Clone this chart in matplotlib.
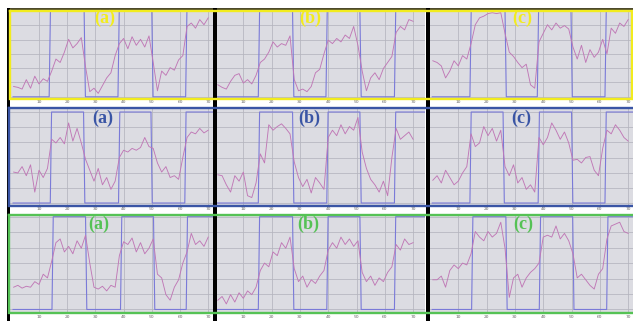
import numpy as np
import matplotlib.pyplot as plt

W, H = 633, 321
fig = plt.figure(figsize=(W / 100, H / 100), dpi=100)
fig.patch.set_facecolor("white")

# sample positions shared by every trace
t = np.arange(1, 71, 1.5)

# measured traces (0 = low reference level, 100 = high reference level)
top_a = [12, 11, 9, 20, 10, 24, 15, 21, 18, 30, 44, 40, 52, 67, 57, 62, 69, 35, 6, 10, 4, 13, 22, 28,
         48, 62, 68, 56, 70, 60, 67, 58, 71, 40, 7, 30, 25, 34, 31, 43, 48, 82, 86, 80, 90, 84, 92]
top_b = [14, 11, 9, 18, 25, 27, 16, 20, 15, 25, 40, 44, 52, 64, 58, 62, 60, 71, 20, 7, 9, 6, 12, 28,
         32, 50, 66, 62, 68, 64, 72, 68, 82, 60, 30, 7, 22, 28, 20, 33, 40, 47, 75, 82, 78, 90, 88]
top_c = [42, 40, 36, 22, 30, 42, 36, 48, 44, 62, 84, 92, 94, 97, 98, 97, 98, 74, 52, 47, 40, 34, 38, 14,
         10, 64, 74, 84, 78, 86, 80, 83, 79, 58, 44, 60, 40, 55, 46, 52, 67, 50, 80, 74, 86, 82, 90]
mid_a = [34, 33, 40, 30, 42, 12, 36, 28, 38, 70, 66, 72, 65, 88, 68, 82, 66, 48, 36, 24, 38, 20, 28, 15,
         24, 50, 58, 56, 60, 58, 61, 72, 62, 60, 44, 34, 40, 28, 30, 26, 50, 72, 78, 76, 82, 77, 80]
mid_b = [31, 30, 20, 12, 30, 24, 34, 8, 6, 22, 54, 44, 86, 80, 84, 87, 82, 76, 45, 28, 18, 26, 11, 28,
         22, 15, 72, 80, 74, 86, 76, 84, 80, 94, 56, 38, 26, 20, 12, 24, 8, 50, 82, 70, 74, 78, 70]
mid_c = [25, 30, 22, 36, 28, 20, 24, 33, 40, 76, 62, 66, 84, 74, 82, 68, 80, 40, 30, 42, 22, 28, 15, 20,
         12, 72, 64, 72, 88, 80, 70, 78, 66, 47, 48, 44, 50, 51, 36, 30, 60, 80, 76, 86, 80, 72, 68]
bot_a = [24, 26, 23, 25, 24, 30, 27, 38, 34, 52, 72, 76, 62, 68, 60, 74, 66, 80, 50, 24, 22, 25, 20, 26,
         24, 58, 73, 70, 77, 62, 72, 60, 66, 76, 38, 34, 16, 10, 24, 32, 50, 62, 82, 70, 74, 68, 78]
bot_b = [10, 14, 6, 16, 8, 18, 12, 20, 16, 24, 42, 50, 46, 62, 58, 72, 66, 78, 44, 30, 36, 24, 32, 28,
         36, 42, 64, 72, 66, 78, 70, 76, 68, 74, 40, 30, 36, 26, 34, 30, 40, 46, 70, 64, 76, 70, 72]
bot_c = [32, 32, 36, 24, 42, 48, 44, 50, 48, 60, 84, 78, 74, 84, 78, 82, 94, 66, 13, 34, 38, 24, 34, 40,
         44, 50, 78, 80, 78, 90, 76, 82, 74, 60, 34, 38, 32, 26, 22, 38, 44, 76, 90, 92, 94, 84, 82]

# switching instants of the reference square wave
edges_top_a = [13.6, 26.0, 38.0, 50.0, 62.0]
edges_top_b = [15.3, 27.4, 39.2, 51.2, 63.4]
edges_top_c = [14.1, 26.5, 37.9, 49.8, 61.8]
edges_mid_a = [14.0, 25.8, 38.2, 49.7, 61.7]
edges_mid_b = [15.3, 27.4, 39.5, 51.2, 63.4]
edges_mid_c = [14.1, 25.8, 38.2, 50.0, 61.8]
edges_bot_a = [14.6, 26.5, 38.9, 50.6, 62.2]
edges_bot_b = [15.3, 27.4, 39.5, 51.2, 63.4]
edges_bot_c = [14.7, 26.8, 38.6, 50.4, 62.4]

panel_labels = ["(a)", "(b)", "(c)"]
row_colors = ["#f2ec1e", "#3a55a5", "#55c255"]

traces = [[top_a, top_b, top_c], [mid_a, mid_b, mid_c], [bot_a, bot_b, bot_c]]
edges = [[edges_top_a, edges_top_b, edges_top_c],
         [edges_mid_a, edges_mid_b, edges_mid_c],
         [edges_bot_a, edges_bot_b, edges_bot_c]]

# layout in pixels (x0, x1) per column and (y0, y1) per row, y measured from the top
col_px = [(9, 213), (216, 425), (429, 633)]
col_xlim = [(-0.64, 71.7), (0.35, 74.2), (-0.35, 71.7)]
row_px = [(11, 98), (108, 205), (215, 313)]
row_ylim = [(-1.4, 93.0), (-2.2, 104.4), (-3.8, 101.8)]


def px_axes(x0, x1, y0, y1):
    return fig.add_axes([x0 / W, 1 - y1 / H, (x1 - x0) / W, (y1 - y0) / H])


def square_wave(sw, start, stop, lo=0.0, hi=100.0, ramp=0.45):
    xs, ys, level = [start], [lo], lo
    for e in sw:
        nxt = hi if level == lo else lo
        xs += [e, e + ramp]
        ys += [level, nxt]
        level = nxt
    xs.append(stop)
    ys.append(level)
    return xs, ys


for r in range(3):
    for c in range(3):
        ax = px_axes(col_px[c][0], col_px[c][1], row_px[r][0], row_px[r][1])
        ax.set_facecolor("#dcdce2")
        ax.set_xlim(*col_xlim[c])
        ax.set_ylim(*row_ylim[r])
        ax.set_xticks(np.arange(10, 71, 10))
        ax.set_yticks(np.linspace(0, 100, 7))
        ax.grid(True, color="#b4b4be", lw=0.55)
        ax.set_axisbelow(True)
        ax.tick_params(axis="x", length=0, labelsize=3.2, labelcolor="#666666", pad=1.5)
        ax.tick_params(axis="y", length=0, labelleft=False)
        for s in ax.spines.values():
            s.set_visible(False)
        bx, by = square_wave(edges[r][c], 0.8, 80)
        ax.plot(bx, by, color="#7a7ad8", lw=0.8, zorder=3)
        ax.plot(t, traces[r][c], color="#c078b6", lw=0.65, zorder=4)

# frame, coloured row boxes, separators and panel letters
ov = fig.add_axes([0, 0, 1, 1], zorder=10)
ov.set_xlim(0, W)
ov.set_ylim(H, 0)
ov.axis("off")
ov.patch.set_alpha(0)

ov.fill_between([8, 633], 8, 11, color="#4d4a2c", lw=0)
ov.fill_between([6.5, 9.5], 8, 321, color="black", lw=0)

box_px = [(9.5, 632, 11, 98.5), (8.5, 640, 108, 205.5), (8.5, 640, 215, 313)]
for (x0, x1, y0, y1), col in zip(box_px, row_colors):
    ov.plot([x0, x1, x1, x0, x0], [y0, y0, y1, y1, y0], color=col, lw=1.7,
            solid_joinstyle="miter")

for x0, x1 in [(213, 216.5), (425.5, 429.5)]:
    ov.fill_between([x0, x1], 8, 321, color="black", lw=0)

label_pos = [[(105, 18), (310, 18), (522, 18)],
             [(103, 118), (309, 118), (521, 118)],
             [(99, 224), (308, 224), (523, 224)]]
for r in range(3):
    for c in range(3):
        x, y = label_pos[r][c]
        ov.text(x, y, panel_labels[c], color=row_colors[r], ha="center", va="center",
                fontsize=13, fontweight="bold", family="Liberation Serif")

fig.savefig("out.png", dpi=100, facecolor="white")
